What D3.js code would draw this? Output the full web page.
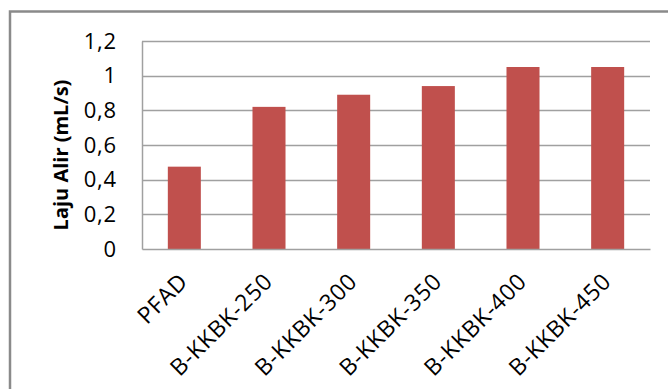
<!DOCTYPE html>
<html lang="id">
<head>
<meta charset="utf-8" />
<title>Laju Alir</title>
<script src="https://cdn.jsdelivr.net/npm/d3@7"></script>
<style>
  html, body { margin: 0; padding: 0; background: #fff; }
  svg { display: block; font-family: "Open Sans", sans-serif; }
</style>
</head>
<body>
<div id="chart"></div>
<script>
"use strict";

let categories = ["PFAD", "B-KKBK-250", "B-KKBK-300", "B-KKBK-350", "B-KKBK-400", "B-KKBK-450"]
let values = [0.475, 0.82, 0.89, 0.94, 1.05, 1.05]
let yTicks = [0, 0.2, 0.4, 0.6, 0.8, 1, 1.2]
let yTitle = "Laju Alir (mL/s)"

let width = 668
let height = 389
let margin = ({top: 41, right: 18, bottom: 140, left: 142})

let svg = d3.select("#chart").append("svg")
    .attr("width", width)
    .attr("height", height)

// chart frame (right and bottom edges fall outside the picture)
svg.append("rect")
    .attr("x", 10).attr("y", 11.5)
    .attr("width", width + 20).attr("height", height + 20)
    .attr("fill", "none")
    .attr("stroke", "#8a8a8a")
    .attr("stroke-width", 2.5)

let x = d3.scaleBand()
    .domain(categories)
    .range([margin.left, width - margin.right])
    .paddingInner(0.61)
    .paddingOuter(0.305)

let y = d3.scaleLinear()
    .domain([0, 1.2])
    .range([height - margin.bottom, margin.top])

let fmt = d => String(d).replace(".", ",")

// gridlines
svg.append("g")
  .selectAll("line")
  .data(yTicks.filter(d => d > 0))
  .join("line")
    .attr("x1", margin.left).attr("x2", width - margin.right)
    .attr("y1", d => Math.round(y(d)) + 0.5).attr("y2", d => Math.round(y(d)) + 0.5)
    .attr("stroke", "#a0a0a0")
    .attr("stroke-width", 1.5)

// bars
svg.append("g")
  .selectAll("rect")
  .data(values)
  .join("rect")
    .attr("x", (d, i) => x(categories[i]))
    .attr("y", d => y(d))
    .attr("width", x.bandwidth())
    .attr("height", d => y(0) - y(d))
    .attr("fill", "#c0504d")

// y axis
let yAxis = svg.append("g")
    .attr("transform", `translate(${margin.left},0)`)
    .call(d3.axisLeft(y).tickValues(yTicks).tickFormat(fmt).tickSize(0).tickPadding(25))
yAxis.select(".domain").attr("stroke", "#a0a0a0").attr("stroke-width", 1.5)
yAxis.selectAll("text")
    .attr("font-family", "Open Sans, sans-serif")
    .attr("font-size", 22)
    .attr("letter-spacing", 0.8)
    .attr("fill", "#000")

// x axis
let xAxis = svg.append("g")
    .attr("transform", `translate(0,${y(0)})`)
    .call(d3.axisBottom(x).tickSize(0).tickPadding(0))
xAxis.select(".domain").attr("stroke", "#a0a0a0").attr("stroke-width", 1.5)
xAxis.selectAll("text")
    .attr("font-family", "Open Sans, sans-serif")
    .attr("font-size", 23)
    .attr("letter-spacing", 0.7)
    .attr("fill", "#000")
    .attr("text-anchor", "end")
    .attr("dy", 0)
    .attr("transform", "translate(5,34) rotate(-45)")

// y title
svg.append("text")
    .attr("transform", `translate(68,${(y(0) + y(1.2)) / 2 + 10}) rotate(-90)`)
    .attr("text-anchor", "middle")
    .attr("font-weight", "bold")
    .attr("font-size", 20)
    .text(yTitle)
</script>
</body>
</html>
